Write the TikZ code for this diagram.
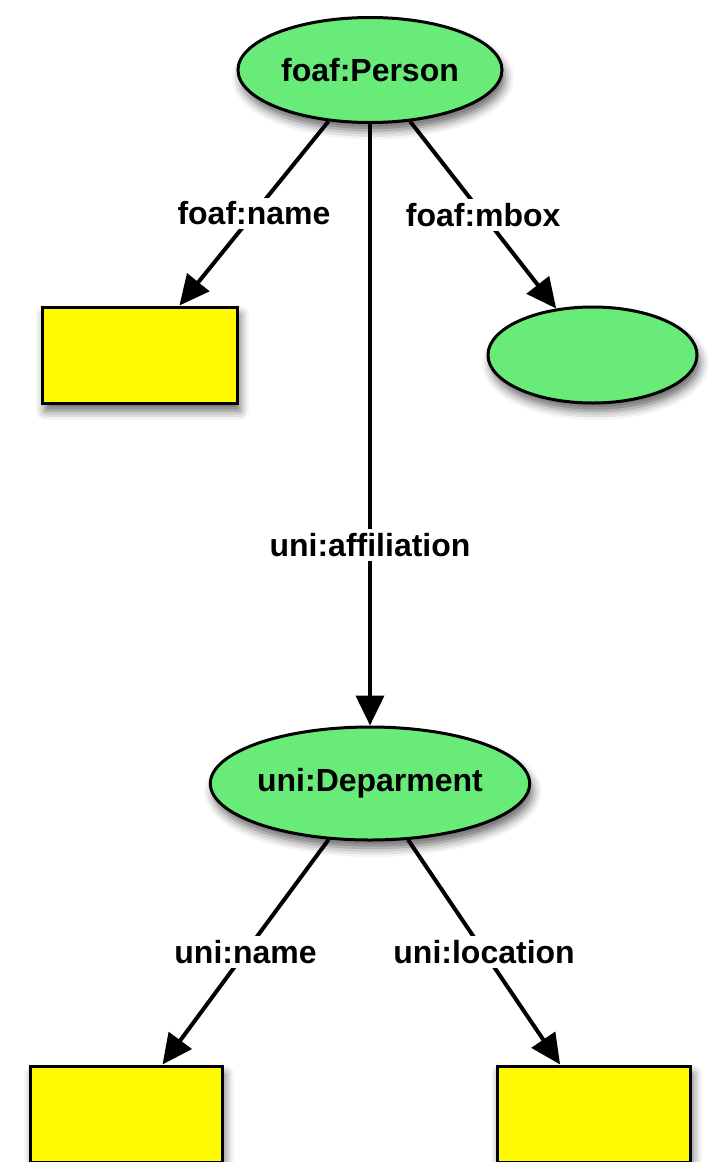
\documentclass[tikz,border=0pt]{standalone}
\usepackage{fontspec}
\setmainfont{Liberation Sans}
\usetikzlibrary{arrows.meta,shapes.geometric,shadows.blur}
\definecolor{classgreen}{RGB}{104,235,120}
\definecolor{lityellow}{RGB}{255,250,0}

\begin{document}
\begin{tikzpicture}[x=0.5pt,y=-0.5pt,>={Triangle[length=15pt,width=14pt]},
    font=\fontsize{16}{19}\selectfont\bfseries,line width=2pt,
    shade/.style={blur shadow={shadow xshift=1.5pt,shadow yshift=-4pt,shadow blur radius=4.5pt,shadow opacity=60}},
    class/.style={ellipse,draw=black,line width=1.5pt,fill=classgreen,inner sep=0pt,shade},
    literal/.style={rectangle,draw=black,line width=1.5pt,fill=lityellow,inner sep=0pt,shade},
    prop/.style={fill=white,inner sep=2pt}]
    \clip (0,0) rectangle (709,1162);

    \node [class,minimum width=132pt,minimum height=52.5pt] (person) at (370,70) {foaf:Person};
    \node [literal,minimum width=97.5pt,minimum height=48pt] (pname) at (139.5,355) {};
    \node [class,minimum width=104.5pt,minimum height=48pt] (mbox) at (592.5,355) {};

    \node [class,minimum width=159pt,minimum height=56.5pt] (dept) at (370,783.5) {uni:Deparment};
    \node [literal,minimum width=96pt,minimum height=48pt] (dname) at (126,1114) {};
    \node [literal,minimum width=96.5pt,minimum height=48pt] (dloc) at (593.5,1114) {};

    \draw [->] (person) -- node [prop] {foaf:name} (pname);
    \draw [->] (person) -- node [prop] {foaf:mbox} (mbox);
    \draw [->] (person) -- node [prop,pos=0.7] {uni:affiliation} (dept);

    \draw [->] (dept) -- node [prop] {uni:name} (dname);
    \draw [->] (dept) -- node [prop] {uni:location} (dloc);
\end{tikzpicture}
\end{document}
